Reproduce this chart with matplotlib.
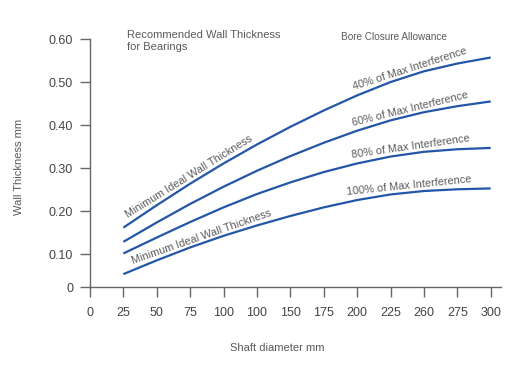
import numpy as np
import matplotlib
matplotlib.use('Agg')
import matplotlib.pyplot as plt

plt.rcParams['font.family'] = ['Liberation Sans', 'DejaVu Sans']

# x axis is really a list of categories (the labels repeat "100")
x_labels = ['0', '25', '50', '75', '100', '100', '150', '175', '200', '225', '260', '275', '300']
x_pos = list(range(1, 13))

# wall thickness, one value per category from 25 to 300
pct40 = [0.162, 0.214, 0.264, 0.311, 0.355, 0.396, 0.434, 0.469, 0.500, 0.525, 0.543, 0.557]
pct60 = [0.129, 0.174, 0.217, 0.257, 0.294, 0.328, 0.359, 0.387, 0.411, 0.430, 0.444, 0.455]
pct80 = [0.102, 0.139, 0.175, 0.209, 0.240, 0.267, 0.291, 0.311, 0.327, 0.338, 0.344, 0.347]
pct100 = [0.054, 0.086, 0.116, 0.143, 0.167, 0.189, 0.209, 0.226, 0.239, 0.247, 0.251, 0.253]

y_ticks = [0.0234, 0.1, 0.2, 0.3, 0.4, 0.5, 0.6]
y_labels = ['0', '0.10', '0.20', '0.30', '0.40', '0.50', '0.60']

blue = '#2456a8'
grey = '#5a5a5a'

fig = plt.figure(figsize=(5.2, 3.8), dpi=100)
ax = fig.add_axes([90 / 520, 1 - 287.3 / 380, 410.7 / 520, 248.3 / 380])

for ys in (pct40, pct60, pct80, pct100):
    ax.plot(x_pos, ys, color=blue, lw=1.6, solid_capstyle='butt')

ax.set_xlim(0, 12.3)
ax.set_ylim(0.0234, 0.6)
ax.set_xticks(range(13))
ax.set_xticklabels(x_labels)
ax.set_yticks(y_ticks)
ax.set_yticklabels(y_labels)

for s in ('top', 'right'):
    ax.spines[s].set_visible(False)
for s in ('left', 'bottom'):
    ax.spines[s].set_color('#666666')
    ax.spines[s].set_linewidth(1.0)
ax.tick_params(axis='both', direction='out', length=7.2, width=1.0, color='#666666',
               labelsize=9, labelcolor='#444444')
ax.tick_params(axis='x', pad=7)
ax.tick_params(axis='y', pad=5)


def curve_label(text, series, xc, gap=1.2):
    # put the text just above the curve, turned to the local slope on screen
    yc = np.interp(xc, x_pos, series)
    p0 = ax.transData.transform((xc - 0.3, np.interp(xc - 0.3, x_pos, series)))
    p1 = ax.transData.transform((xc + 0.3, np.interp(xc + 0.3, x_pos, series)))
    ang = np.degrees(np.arctan2(p1[1] - p0[1], p1[0] - p0[0]))
    off = (-np.sin(np.radians(ang)) * gap, np.cos(np.radians(ang)) * gap)
    ax.annotate(text, (xc, yc), xytext=off, textcoords='offset points',
                rotation=ang, rotation_mode='anchor', ha='center', va='bottom',
                color=grey, fontsize=7.8)


curve_label('Minimum Ideal Wall Thickness', pct40, 3.07)
curve_label('Minimum Ideal Wall Thickness', pct100, 3.4)
curve_label('40% of Max Interference', pct40, 9.65)
curve_label('60% of Max Interference', pct60, 9.63)
curve_label('80% of Max Interference', pct80, 9.63)
curve_label('100% of Max Interference', pct100, 9.58)

fig.text(126.7 / 520, 1 - 41.5 / 380, 'Recommended Wall Thickness\nfor Bearings',
         color=grey, fontsize=8, ha='left', va='center', linespacing=1.25)
fig.text(340.7 / 520, 1 - 36.7 / 380, 'Bore Closure Allowance',
         color=grey, fontsize=7.2, ha='left', va='center')
fig.text(277 / 520, 1 - 348 / 380, 'Shaft diameter mm',
         color=grey, fontsize=8, ha='center', va='center')
fig.text(19 / 520, 1 - 166.7 / 380, 'Wall Thickness mm',
         color=grey, fontsize=8, ha='center', va='center', rotation=90)

fig.savefig('out.png', dpi=100, facecolor='white')
